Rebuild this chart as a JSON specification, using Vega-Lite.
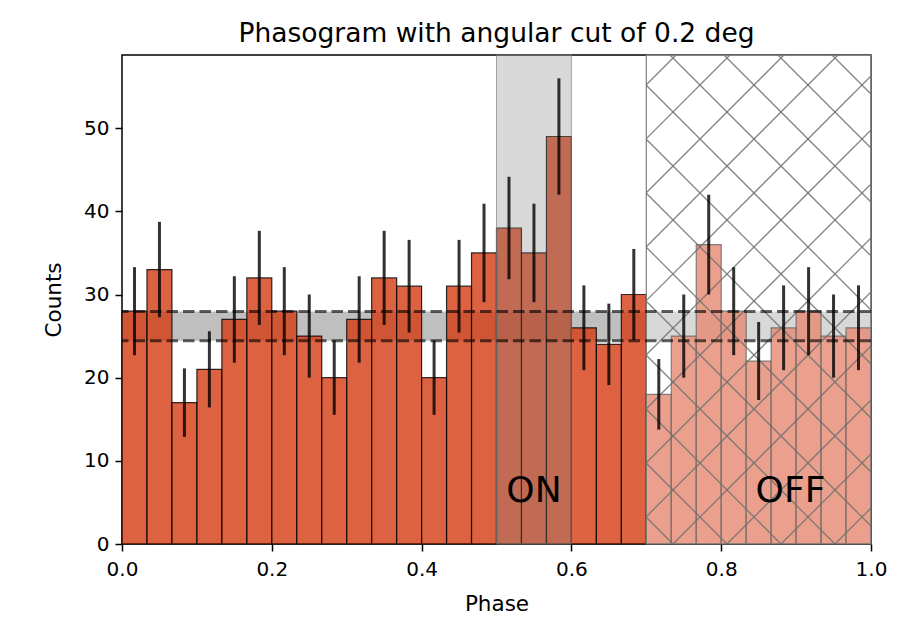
{
  "$schema": "https://vega.github.io/schema/vega-lite/v6.json",
  "width": 749,
  "height": 489,
  "autosize": {"type": "none"},
  "padding": {"left": 122, "top": 55, "right": 41, "bottom": 79},
  "background": "white",
  "config": {
    "font": "DejaVu Sans",
    "view": {"stroke": "#000", "strokeWidth": 1.5},
    "axis": {"grid": false, "domain": false, "tickColor": "#000", "tickWidth": 1.5, "tickSize": 7, "labelColor": "#000", "labelFontSize": 20, "titleColor": "#000", "titleFontSize": 21.5, "titleFontWeight": "normal", "labelFont": "DejaVu Sans", "titleFont": "DejaVu Sans"}
  },
  "title": {"text": "Phasogram with angular cut of 0.2 deg", "fontSize": 26.5, "fontWeight": "normal", "color": "#000", "font": "DejaVu Sans", "offset": 7},
  "datasets": {
    "bins": [
      {"start": 0.0, "end": 0.03333, "mid": 0.01667, "base": 0, "counts": 28, "lo": 22.71, "hi": 33.29},
      {"start": 0.03333, "end": 0.06667, "mid": 0.05, "base": 0, "counts": 33, "lo": 27.26, "hi": 38.74},
      {"start": 0.06667, "end": 0.1, "mid": 0.08333, "base": 0, "counts": 17, "lo": 12.88, "hi": 21.12},
      {"start": 0.1, "end": 0.13333, "mid": 0.11667, "base": 0, "counts": 21, "lo": 16.42, "hi": 25.58},
      {"start": 0.13333, "end": 0.16667, "mid": 0.15, "base": 0, "counts": 27, "lo": 21.8, "hi": 32.2},
      {"start": 0.16667, "end": 0.2, "mid": 0.18333, "base": 0, "counts": 32, "lo": 26.34, "hi": 37.66},
      {"start": 0.2, "end": 0.23333, "mid": 0.21667, "base": 0, "counts": 28, "lo": 22.71, "hi": 33.29},
      {"start": 0.23333, "end": 0.26667, "mid": 0.25, "base": 0, "counts": 25, "lo": 20.0, "hi": 30.0},
      {"start": 0.26667, "end": 0.3, "mid": 0.28333, "base": 0, "counts": 20, "lo": 15.53, "hi": 24.47},
      {"start": 0.3, "end": 0.33333, "mid": 0.31667, "base": 0, "counts": 27, "lo": 21.8, "hi": 32.2},
      {"start": 0.33333, "end": 0.36667, "mid": 0.35, "base": 0, "counts": 32, "lo": 26.34, "hi": 37.66},
      {"start": 0.36667, "end": 0.4, "mid": 0.38333, "base": 0, "counts": 31, "lo": 25.43, "hi": 36.57},
      {"start": 0.4, "end": 0.43333, "mid": 0.41667, "base": 0, "counts": 20, "lo": 15.53, "hi": 24.47},
      {"start": 0.43333, "end": 0.46667, "mid": 0.45, "base": 0, "counts": 31, "lo": 25.43, "hi": 36.57},
      {"start": 0.46667, "end": 0.5, "mid": 0.48333, "base": 0, "counts": 35, "lo": 29.08, "hi": 40.92},
      {"start": 0.5, "end": 0.53333, "mid": 0.51667, "base": 0, "counts": 38, "lo": 31.84, "hi": 44.16},
      {"start": 0.53333, "end": 0.56667, "mid": 0.55, "base": 0, "counts": 35, "lo": 29.08, "hi": 40.92},
      {"start": 0.56667, "end": 0.6, "mid": 0.58333, "base": 0, "counts": 49, "lo": 42.0, "hi": 56.0},
      {"start": 0.6, "end": 0.63333, "mid": 0.61667, "base": 0, "counts": 26, "lo": 20.9, "hi": 31.1},
      {"start": 0.63333, "end": 0.66667, "mid": 0.65, "base": 0, "counts": 24, "lo": 19.1, "hi": 28.9},
      {"start": 0.66667, "end": 0.7, "mid": 0.68333, "base": 0, "counts": 30, "lo": 24.52, "hi": 35.48},
      {"start": 0.7, "end": 0.73333, "mid": 0.71667, "base": 0, "counts": 18, "lo": 13.76, "hi": 22.24},
      {"start": 0.73333, "end": 0.76667, "mid": 0.75, "base": 0, "counts": 25, "lo": 20.0, "hi": 30.0},
      {"start": 0.76667, "end": 0.8, "mid": 0.78333, "base": 0, "counts": 36, "lo": 30.0, "hi": 42.0},
      {"start": 0.8, "end": 0.83333, "mid": 0.81667, "base": 0, "counts": 28, "lo": 22.71, "hi": 33.29},
      {"start": 0.83333, "end": 0.86667, "mid": 0.85, "base": 0, "counts": 22, "lo": 17.31, "hi": 26.69},
      {"start": 0.86667, "end": 0.9, "mid": 0.88333, "base": 0, "counts": 26, "lo": 20.9, "hi": 31.1},
      {"start": 0.9, "end": 0.93333, "mid": 0.91667, "base": 0, "counts": 28, "lo": 22.71, "hi": 33.29},
      {"start": 0.93333, "end": 0.96667, "mid": 0.95, "base": 0, "counts": 25, "lo": 20.0, "hi": 30.0},
      {"start": 0.96667, "end": 1.0, "mid": 0.98333, "base": 0, "counts": 26, "lo": 20.9, "hi": 31.1}
    ],
    "band": [{"start": 0, "end": 1, "lo": 24.43, "hi": 27.95}],
    "levels": [{"level": 24.43}, {"level": 27.95}],
    "on": [{"start": 0.5, "end": 0.6, "bottom": 0, "top": 58.8}],
    "off": [{"start": 0.7, "end": 1.0, "bottom": 0, "top": 58.8}],
    "hatch": [
      {"p1": 0.7, "c1": 55.23, "p2": 0.7397, "c2": 58.8},
      {"p1": 0.7, "c1": 48.74, "p2": 0.8117, "c2": 58.8},
      {"p1": 0.7, "c1": 42.24, "p2": 0.8838, "c2": 58.8},
      {"p1": 0.7, "c1": 35.75, "p2": 0.9559, "c2": 58.8},
      {"p1": 0.7, "c1": 29.26, "p2": 1.0, "c2": 56.28},
      {"p1": 0.7, "c1": 22.76, "p2": 1.0, "c2": 49.78},
      {"p1": 0.7, "c1": 16.27, "p2": 1.0, "c2": 43.29},
      {"p1": 0.7, "c1": 9.78, "p2": 1.0, "c2": 36.8},
      {"p1": 0.7, "c1": 3.28, "p2": 1.0, "c2": 30.3},
      {"p1": 0.7356, "c1": 0, "p2": 1.0, "c2": 23.81},
      {"p1": 0.8077, "c1": 0, "p2": 1.0, "c2": 17.32},
      {"p1": 0.8798, "c1": 0, "p2": 1.0, "c2": 10.82},
      {"p1": 0.9519, "c1": 0, "p2": 1.0, "c2": 4.33},
      {"p1": 0.7, "c1": 3.21, "p2": 0.7356, "c2": 0},
      {"p1": 0.7, "c1": 9.7, "p2": 0.8077, "c2": 0},
      {"p1": 0.7, "c1": 16.2, "p2": 0.8798, "c2": 0},
      {"p1": 0.7, "c1": 22.69, "p2": 0.9519, "c2": 0},
      {"p1": 0.7, "c1": 29.18, "p2": 1.0, "c2": 2.16},
      {"p1": 0.7, "c1": 35.68, "p2": 1.0, "c2": 8.66},
      {"p1": 0.7, "c1": 42.17, "p2": 1.0, "c2": 15.15},
      {"p1": 0.7, "c1": 48.66, "p2": 1.0, "c2": 21.64},
      {"p1": 0.7, "c1": 55.16, "p2": 1.0, "c2": 28.14},
      {"p1": 0.7316, "c1": 58.8, "p2": 1.0, "c2": 34.63},
      {"p1": 0.8037, "c1": 58.8, "p2": 1.0, "c2": 41.12},
      {"p1": 0.8758, "c1": 58.8, "p2": 1.0, "c2": 47.62},
      {"p1": 0.9479, "c1": 58.8, "p2": 1.0, "c2": 54.11}
    ],
    "labels": [{"label": "ON", "px": 0.55, "cy": 5}, {"label": "OFF", "px": 0.8925, "cy": 5}]
  },
  "layer": [
    {
      "data": {"name": "band"},
      "mark": {"type": "rect", "fill": "#808080", "fillOpacity": 0.5},
      "encoding": {
        "x": {"field": "start", "type": "quantitative", "scale": {"domain": [0, 1], "nice": false, "zero": false}, "axis": {"title": "Phase", "values": [0, 0.2, 0.4, 0.6, 0.8, 1.0], "format": ".1f", "labelPadding": 8, "titlePadding": 14, "labelFlush": false}},
        "x2": {"field": "end"},
        "y": {"field": "lo", "type": "quantitative", "scale": {"domain": [0, 58.8], "nice": false, "zero": true}, "axis": {"title": "Counts", "values": [0, 10, 20, 30, 40, 50], "labelPadding": 6, "titlePadding": 18}},
        "y2": {"field": "hi"}
      }
    },
    {
      "data": {"name": "bins"},
      "mark": {"type": "rect", "fill": "#d43b12", "fillOpacity": 0.8, "stroke": "#000", "strokeOpacity": 0.8, "strokeWidth": 1.2},
      "encoding": {
        "x": {"field": "start", "type": "quantitative"},
        "x2": {"field": "end"},
        "y": {"field": "counts", "type": "quantitative"},
        "y2": {"field": "base"}
      }
    },
    {
      "data": {"name": "on"},
      "mark": {"type": "rect", "fill": "#808080", "fillOpacity": 0.3, "stroke": "#808080", "strokeOpacity": 0.7, "strokeWidth": 1},
      "encoding": {
        "x": {"field": "start", "type": "quantitative"},
        "x2": {"field": "end"},
        "y": {"field": "bottom", "type": "quantitative"},
        "y2": {"field": "top"}
      }
    },
    {
      "data": {"name": "off"},
      "mark": {"type": "rect", "fill": "#ffffff", "fillOpacity": 0.4, "stroke": "#808080", "strokeWidth": 1.2},
      "encoding": {
        "x": {"field": "start", "type": "quantitative"},
        "x2": {"field": "end"},
        "y": {"field": "bottom", "type": "quantitative"},
        "y2": {"field": "top"}
      }
    },
    {
      "data": {"name": "hatch"},
      "mark": {"type": "rule", "color": "#707070", "strokeWidth": 1.3, "opacity": 0.85},
      "encoding": {
        "x": {"field": "p1", "type": "quantitative"},
        "y": {"field": "c1", "type": "quantitative"},
        "x2": {"field": "p2"},
        "y2": {"field": "c2"}
      }
    },
    {
      "data": {"name": "levels"},
      "mark": {"type": "rule", "color": "#000", "opacity": 0.62, "strokeWidth": 3, "strokeDash": [11.5, 5]},
      "encoding": {
        "y": {"field": "level", "type": "quantitative"}
      }
    },
    {
      "data": {"name": "bins"},
      "mark": {"type": "rule", "color": "#000", "opacity": 0.8, "strokeWidth": 3},
      "encoding": {
        "x": {"field": "mid", "type": "quantitative"},
        "y": {"field": "lo", "type": "quantitative"},
        "y2": {"field": "hi"}
      }
    },
    {
      "data": {"name": "labels"},
      "mark": {"type": "text", "fontSize": 36, "align": "center", "baseline": "alphabetic", "color": "#000", "font": "DejaVu Sans"},
      "encoding": {
        "x": {"field": "px", "type": "quantitative"},
        "y": {"field": "cy", "type": "quantitative"},
        "text": {"field": "label"}
      }
    }
  ]
}
